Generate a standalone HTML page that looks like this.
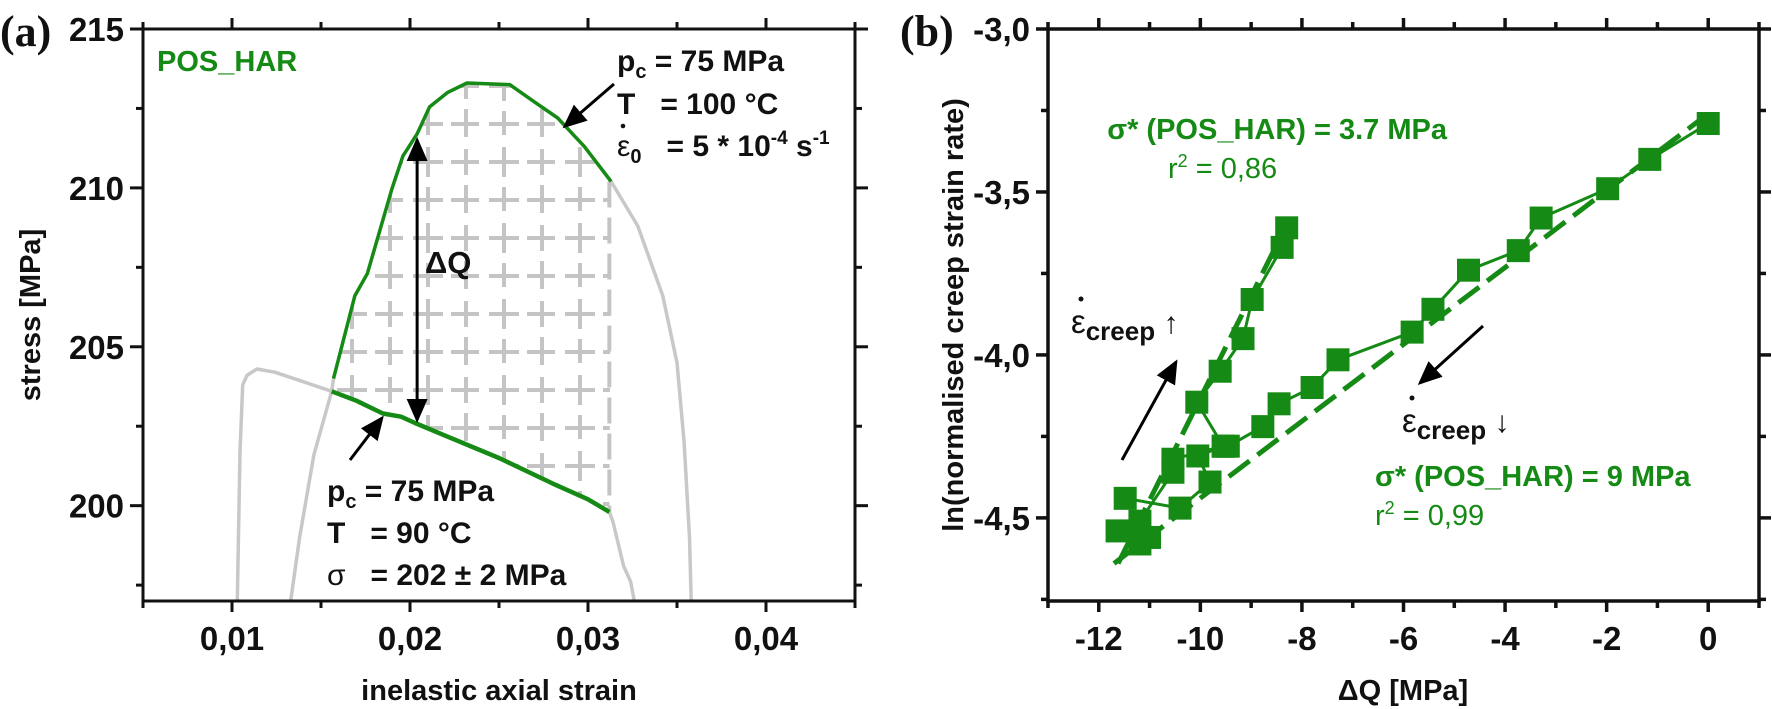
<!DOCTYPE html>
<html><head><meta charset="utf-8">
<style>
html,body{margin:0;padding:0;background:#fff;}
svg{display:block;font-family:"Liberation Sans",Arial,sans-serif;}
.tk{font-weight:bold;font-size:33px;fill:#111;}
</style></head>
<body>
<svg id="fig" width="1772" height="709" viewBox="0 0 1772 709" xmlns="http://www.w3.org/2000/svg">
<defs>
<pattern id="hatch" patternUnits="userSpaceOnUse" width="76" height="76" x="143" y="29">
<g stroke="#c4c4c4" stroke-width="4" fill="none">
<line x1="4" y1="19" x2="32" y2="19"/><line x1="42" y1="19" x2="72" y2="19"/>
<line x1="4" y1="57" x2="32" y2="57"/><line x1="42" y1="57" x2="72" y2="57"/>
<line x1="19" y1="4" x2="19" y2="32"/><line x1="57" y1="42" x2="57" y2="72"/>
<line x1="19" y1="44" x2="19" y2="70"/><line x1="57" y1="6" x2="57" y2="30"/>
</g>
</pattern>
<marker id="ah" markerWidth="8" markerHeight="8" refX="7" refY="4" orient="auto-start-reverse" markerUnits="strokeWidth"><path d="M0,0.5 L8,4 L0,7.5 Z" fill="#000"/></marker>
</defs>
<g id="pa"></g>
<g id="pb"></g>
</svg>
<script>
// ---------- Panel A data ----------
const aCurve90X = [0.01030,0.01045,0.01060,0.01084,0.01140,0.01240,0.01400,0.01560];
const aCurve90Y = [197.0,201.7,203.8,204.1,204.3,204.2,203.9,203.6];
const aGreen90X = [0.01560,0.01700,0.01848,0.01950,0.02028,0.02200,0.02500,0.02800,0.03000,0.03120];
const aGreen90Y = [203.6,203.3,202.9,202.8,202.6,202.2,201.5,200.7,200.2,199.8];
const aTail90X = [0.03120,0.03140,0.03200,0.03240,0.03260];
const aTail90Y = [199.8,199.5,198.1,197.6,197.0];
const aRise100X = [0.01330,0.01380,0.01460,0.01560,0.01570];
const aRise100Y = [197.0,199.0,201.6,203.6,204.0];
const aGreen100X = [0.01570,0.01690,0.01760,0.01900,0.01960,0.02040,0.02110,0.02210,0.02320,0.02560,0.02700,0.02830,0.02980,0.03130];
const aGreen100Y = [204.0,206.6,207.3,210.0,211.0,211.7,212.55,213.0,213.3,213.25,212.7,212.2,211.3,210.2];
const aTail100X = [0.03130,0.03280,0.03420,0.03500,0.03540,0.03570,0.03580];
const aTail100Y = [210.2,208.8,206.6,204.5,202.0,199.0,197.0];
const aXTicks = [0.01,0.02,0.03,0.04];
const aXTickLabels = ["0,01","0,02","0,03","0,04"];
const aYTicks = [200,205,210,215];
const aYTickLabels = ["200","205","210","215"];

// ---------- Panel B data ----------
const bLowX = [0,-1.15,-1.98,-3.29,-3.74,-4.72,-5.42,-5.83,-7.29,-7.8,-8.45,-8.77,-9.45,-9.55,-10.54,-10.54,-11.19,-11.0,-11.19,-11.64];
const bLowY = [-3.29,-3.40,-3.49,-3.58,-3.68,-3.74,-3.86,-3.93,-4.015,-4.10,-4.15,-4.22,-4.28,-4.28,-4.32,-4.36,-4.51,-4.56,-4.58,-4.54];
const bHighX = [-11.48,-10.4,-9.81,-10.05,-9.55,-10.07,-9.61,-9.16,-8.98,-8.39,-8.3];
const bHighY = [-4.44,-4.47,-4.39,-4.31,-4.28,-4.145,-4.05,-3.95,-3.83,-3.67,-3.61];
const bFit9X = [-11.7,0];
const bFit9Y = [-4.64,-3.26];
const bFit37X = [-11.62,-8.3];
const bFit37Y = [-4.64,-3.6];
const bXTicks = [-12,-10,-8,-6,-4,-2,0];
const bXTickLabels = ["-12","-10","-8","-6","-4","-2","0"];
const bYTicks = [-3.0,-3.5,-4.0,-4.5];
const bYTickLabels = ["-3,0","-3,5","-4,0","-4,5"];

const NS="http://www.w3.org/2000/svg";
function mk(tag, parent, attrs){const e=document.createElementNS(NS,tag);for(const k in attrs)e.setAttribute(k,attrs[k]);parent.appendChild(e);return e;}

// ---- Panel A ----
const A={l:143,r:855,t:29,b:601,x0:0.005,x1:0.045,y0:197,y1:215};
const ax=v=>A.l+(v-A.x0)/(A.x1-A.x0)*(A.r-A.l);
const ay=v=>A.b-(v-A.y0)/(A.y1-A.y0)*(A.b-A.t);
const pa=document.getElementById('pa');
function ptsA(X,Y){return X.map((x,i)=>ax(x).toFixed(1)+','+ay(Y[i]).toFixed(1)).join(' ');}

let hatchPts=ptsA(aGreen100X,aGreen100Y)+' '+ptsA(aGreen90X.slice().reverse(),aGreen90Y.slice().reverse());
let hatch=mk('polygon',pa,{points:hatchPts,fill:'url(#hatch)',stroke:'none'});


let redge=mk('line',pa,{x1:ax(0.0312),y1:ay(210.2),x2:ax(0.0312),y2:ay(199.8),stroke:'#c4c4c4','stroke-width':4,'stroke-dasharray':'26 10'});



function line(parent,X,Y,color,w,name){
  const e=mk('polyline',parent,{points:ptsA(X,Y),fill:'none',stroke:color,'stroke-width':w,'stroke-linejoin':'round'});
  
  
  return e;
}
line(pa,aCurve90X,aCurve90Y,'#c8c8c8',3.5,'curve-90c-gray');
line(pa,aTail90X,aTail90Y,'#c8c8c8',3.5,'curve-90c-tail');
line(pa,aRise100X,aRise100Y,'#c8c8c8',3.5,'curve-100c-rise');
line(pa,aTail100X,aTail100Y,'#c8c8c8',3.5,'curve-100c-tail');
line(pa,aGreen90X,aGreen90Y,'#158a15',4.5,'curve-90c-green');
line(pa,aGreen100X,aGreen100Y,'#158a15',3.5,'curve-100c-green');

let fa=mk('rect',pa,{x:A.l,y:A.t,width:A.r-A.l,height:A.b-A.t,fill:'none',stroke:'#111','stroke-width':3});


for(let v=0.005;v<=0.04501;v+=0.005){
  const major=Math.abs(Math.round(v*100)-v*100)<1e-6;
  const L=major?11:7;
  const x=ax(v);
  let t1=mk('line',pa,{x1:x,y1:A.b,x2:x,y2:A.b+L,stroke:'#111','stroke-width':3});
  
  
  let t2=mk('line',pa,{x1:x,y1:A.t,x2:x,y2:A.t-L,stroke:'#111','stroke-width':3});
  
  
}
for(let v=197.5;v<=215.01;v+=2.5){
  const major=Math.abs(v%5)<1e-6;
  const L=major?13:7;
  const y=ay(v);
  let t1=mk('line',pa,{x1:A.l,y1:y,x2:A.l-L,y2:y,stroke:'#111','stroke-width':3});
  
  
  let t2=mk('line',pa,{x1:A.r,y1:y,x2:A.r+L,y2:y,stroke:'#111','stroke-width':3});
  
  
}
aXTicks.forEach((v,i)=>{
  const t=mk('text',pa,{x:ax(v),y:650,'text-anchor':'middle',class:'tk'});t.textContent=aXTickLabels[i];
  
  
});
aYTicks.forEach((v,i)=>{
  const t=mk('text',pa,{x:124,y:ay(v)+12,'text-anchor':'end',class:'tk'});t.textContent=aYTickLabels[i];
  
  
});

// ---- Panel B ----
const B={l:1048,r:1759,t:29,b:601,x0:-13,x1:1,y0:-4.755,y1:-3.0};
const bx=v=>B.l+(v-B.x0)/(B.x1-B.x0)*(B.r-B.l);
const by=v=>B.b-(v-B.y0)/(B.y1-B.y0)*(B.b-B.t);
const pb=document.getElementById('pb');
function ptsB(X,Y){return X.map((x,i)=>bx(x).toFixed(1)+','+by(Y[i]).toFixed(1)).join(' ');}
const G='#158a15';
let f9=mk('polyline',pb,{points:ptsB(bFit9X,bFit9Y),fill:'none',stroke:G,'stroke-width':5,'stroke-dasharray':'26 10'});


let f37=mk('polyline',pb,{points:ptsB(bFit37X,bFit37Y),fill:'none',stroke:G,'stroke-width':5,'stroke-dasharray':'26 10'});


let lLow=mk('polyline',pb,{points:ptsB(bLowX,bLowY),fill:'none',stroke:G,'stroke-width':3});


let lHigh=mk('polyline',pb,{points:ptsB(bHighX,bHighY),fill:'none',stroke:G,'stroke-width':3});


function squares(X,Y,name){
  X.forEach((x,i)=>{
    const s=mk('rect',pb,{x:bx(x)-11.5,y:by(Y[i])-11.5,width:23,height:23,fill:G});
    
    
  });
}
squares(bLowX,bLowY,'point-decreasing');
squares(bHighX,bHighY,'point-increasing');

let fb=mk('rect',pb,{x:B.l,y:B.t,width:B.r-B.l,height:B.b-B.t,fill:'none',stroke:'#111','stroke-width':3.5});


for(let v=-13;v<=1;v+=1){
  const major=(v%2===0);
  const L=major?11:7;
  const x=bx(v);
  let t1=mk('line',pb,{x1:x,y1:B.b,x2:x,y2:B.b+L,stroke:'#111','stroke-width':3.5});
  
  
  let t2=mk('line',pb,{x1:x,y1:B.t,x2:x,y2:B.t-L,stroke:'#111','stroke-width':3.5});
  
  
}
for(let k=0;k<=7;k++){
  const v=-3.0-0.25*k;
  const L=(k%2===0)?12:7;
  const y=by(v);
  let t1=mk('line',pb,{x1:B.l,y1:y,x2:B.l-L,y2:y,stroke:'#111','stroke-width':3.5});
  
  
  let t2=mk('line',pb,{x1:B.r,y1:y,x2:B.r+L,y2:y,stroke:'#111','stroke-width':3.5});
  
  
}
bXTicks.forEach((v,i)=>{
  const t=mk('text',pb,{x:bx(v),y:650,'text-anchor':'middle',class:'tk'});t.textContent=bXTickLabels[i];
  
  
});
bYTicks.forEach((v,i)=>{
  const t=mk('text',pb,{x:1030,y:by(v)+12,'text-anchor':'end',class:'tk'});t.textContent=bYTickLabels[i];
  
  
});

function arrow(parent,x1,y1,x2,y2,name,both){
  const e=mk('line',parent,{x1:x1,y1:y1,x2:x2,y2:y2,stroke:'#000','stroke-width':3,'marker-end':'url(#ah)'});
  if(both)e.setAttribute('marker-start','url(#ah)');
  
  
}
arrow(pa,ax(0.0204),ay(211.6)+3,ax(0.0204),ay(202.6)-3,'delta-q-arrow',true);
arrow(pa,614,84,ax(0.0287),ay(212.0)+2,'arrow-100c-curve',false);
arrow(pa,350,460,382,418,'arrow-90c-curve',false);
arrow(pb,1122,460,1176,362,'arrow-creep-up',false);
arrow(pb,1483,326,1420,383,'arrow-creep-down',false);
</script>

<svg style="position:absolute;left:0;top:0" width="1772" height="709" xmlns="http://www.w3.org/2000/svg">
<g font-family="Liberation Sans, Arial, sans-serif">
<text x="0" y="46" font-family="Liberation Serif, serif" font-weight="bold" font-size="44" fill="#111">(a)</text>
<text x="900" y="46" font-family="Liberation Serif, serif" font-weight="bold" font-size="44" fill="#111">(b)</text>
<text transform="translate(40,315) rotate(-90)" text-anchor="middle" font-weight="bold" font-size="29" fill="#111">stress [MPa]</text>
<text x="499" y="700" text-anchor="middle" font-weight="bold" font-size="29" fill="#111">inelastic axial strain</text>
<text transform="translate(963,315) rotate(-90)" text-anchor="middle" font-weight="bold" font-size="29" fill="#111">ln(normalised creep strain rate)</text>
<text x="1403" y="700" text-anchor="middle" font-weight="bold" font-size="29" fill="#111">ΔQ [MPa]</text>
<text x="157" y="71" font-weight="bold" font-size="29" fill="#158a15">POS_HAR</text>
<text x="425" y="273" font-weight="bold" font-size="31" fill="#111">ΔQ</text>
<g>
<text x="617" y="71" font-weight="bold" font-size="30" fill="#111">p<tspan font-size="20" dy="7">c</tspan><tspan dy="-7"> = 75 MPa</tspan></text>
<text x="617" y="114" font-weight="bold" font-size="30" fill="#111">T&#160;&#160;&#160;= 100 °C</text>
<text x="617" y="156" font-size="30" fill="#111">ε<tspan font-size="20" dy="7" font-weight="bold">0</tspan><tspan dy="-7" font-weight="bold">&#160;&#160;&#160;= 5 * 10</tspan><tspan font-size="19" dy="-12" font-weight="bold">-4</tspan><tspan dy="12" font-weight="bold"> s</tspan><tspan font-size="19" dy="-12" font-weight="bold">-1</tspan></text>
<circle cx="623" cy="126" r="2.3" fill="#111"/>
</g>
<g>
<text x="327" y="501" font-weight="bold" font-size="30" fill="#111">p<tspan font-size="20" dy="7">c</tspan><tspan dy="-7"> = 75 MPa</tspan></text>
<text x="327" y="543" font-weight="bold" font-size="30" fill="#111">T&#160;&#160;&#160;= 90 °C</text>
<text x="327" y="585" font-size="30" fill="#111">σ<tspan font-weight="bold">&#160;&#160;&#160;= 202 ± 2 MPa</tspan></text>
</g>
<text x="1447" y="139" text-anchor="end" font-weight="bold" font-size="29" fill="#158a15">σ* (POS_HAR) = 3.7 MPa</text>
<text x="1168" y="178" font-size="29" fill="#158a15">r<tspan font-size="18" dy="-11">2</tspan><tspan dy="11"> = 0,86</tspan></text>
<text x="1375" y="486" font-weight="bold" font-size="29" fill="#158a15">σ* (POS_HAR) = 9 MPa</text>
<text x="1375" y="525" font-size="29" fill="#158a15">r<tspan font-size="18" dy="-11">2</tspan><tspan dy="11"> = 0,99</tspan></text>
<text x="1071" y="333" font-size="33" fill="#111">ε<tspan font-size="26" font-weight="bold" dy="7">creep</tspan><tspan dy="-7" font-size="30"> ↑</tspan></text>
<circle cx="1081" cy="299" r="2.5" fill="#111"/>
<text x="1402" y="432" font-size="33" fill="#111">ε<tspan font-size="26" font-weight="bold" dy="7">creep</tspan><tspan dy="-7" font-size="30"> ↓</tspan></text>
<circle cx="1412" cy="398" r="2.5" fill="#111"/>
</g>
</svg>
</body></html>
